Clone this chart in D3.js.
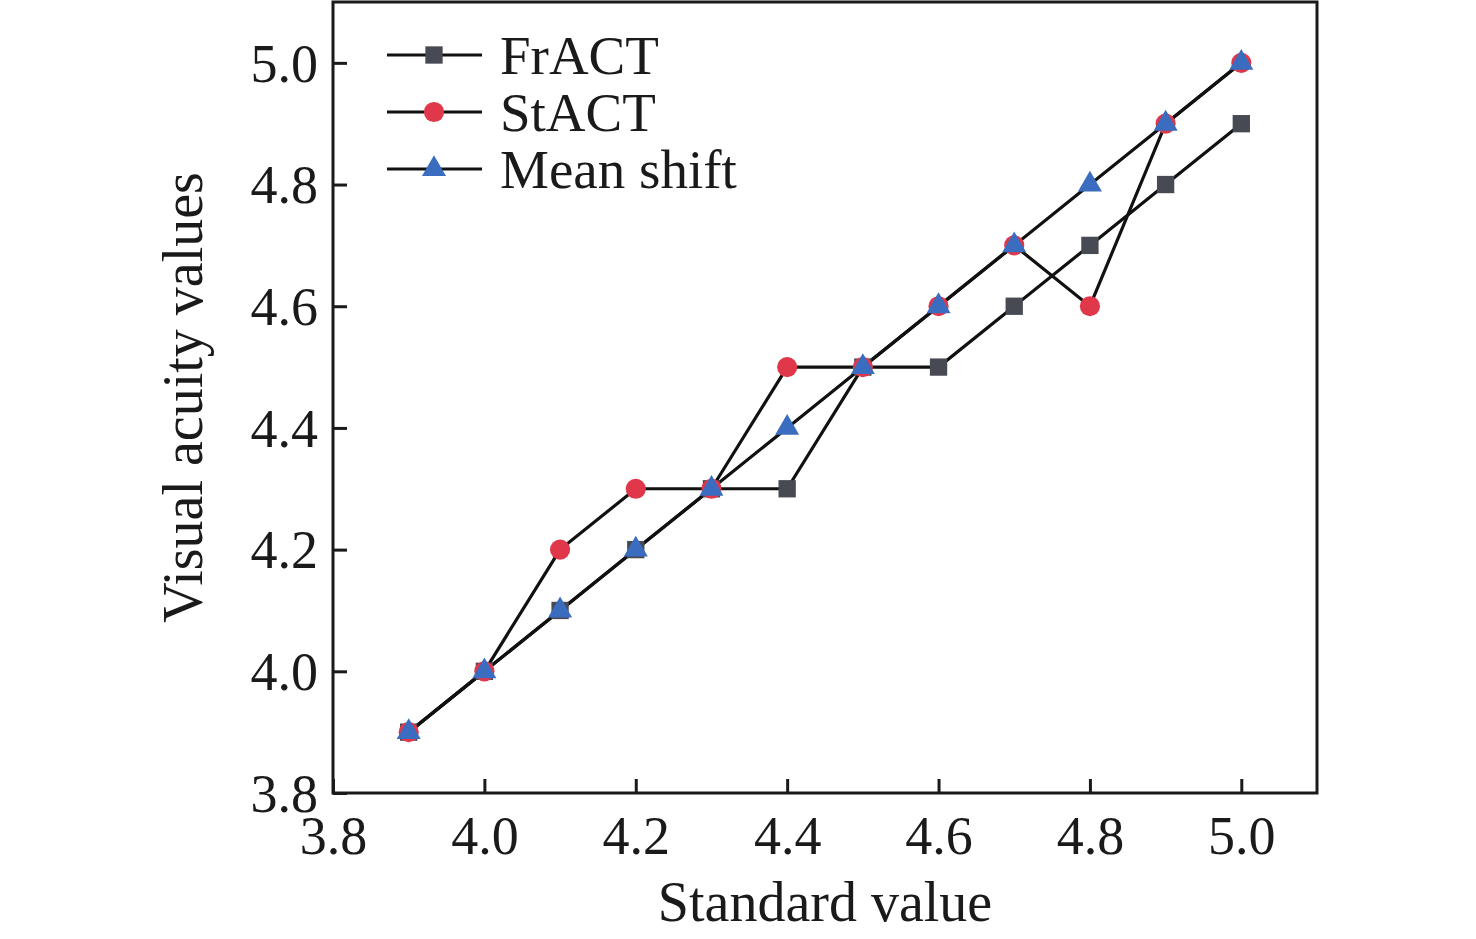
<!DOCTYPE html>
<html>
<head>
<meta charset="utf-8">
<script src="https://cdn.jsdelivr.net/npm/d3@7"></script>
<style>
  body { margin: 0; background: #fff; }
  text { font-family: "Liberation Serif", "Times New Roman", serif; fill: #1a1a1a; }
</style>
</head>
<body>
<svg id="chart" width="1476" height="939"></svg>
<script>
// data
const standard = [3.9, 4.0, 4.1, 4.2, 4.3, 4.4, 4.5, 4.6, 4.7, 4.8, 4.9, 5.0];
const fract = [3.9, 4.0, 4.1, 4.2, 4.3, 4.3, 4.5, 4.5, 4.6, 4.7, 4.8, 4.9];
const stact = [3.9, 4.0, 4.2, 4.3, 4.3, 4.5, 4.5, 4.6, 4.7, 4.6, 4.9, 5.0];
const meanShift = [3.9, 4.0, 4.1, 4.2, 4.3, 4.4, 4.5, 4.6, 4.7, 4.8, 4.9, 5.0];
const tickValues = [3.8, 4.0, 4.2, 4.4, 4.6, 4.8, 5.0];

const series = [
  { name: 'FrACT', values: fract, shape: d3.symbolSquare, color: '#474a52', size: 300 },
  { name: 'StACT', values: stact, shape: d3.symbolCircle, color: '#e0384a', size: 320 },
  { name: 'Mean shift', values: meanShift, shape: d3.symbolTriangle, color: '#3a6cc0', size: 250 }
];

const svg = d3.select('#chart');
const margin = { left: 333, right: 159, top: 2, bottom: 146 };
const width = 1476, height = 939;

const x = d3.scaleLinear().domain([3.8, 5.1]).range([margin.left, width - margin.right]);
const y = d3.scaleLinear().domain([3.8, 5.1]).range([height - margin.bottom, margin.top]);

const fmt = d3.format('.1f');

// frame
svg.append('rect')
  .attr('x', x(3.8)).attr('y', y(5.1))
  .attr('width', x(5.1) - x(3.8)).attr('height', y(3.8) - y(5.1))
  .attr('fill', 'none').attr('stroke', '#1a1a1a').attr('stroke-width', 3);

// axes, ticks inward
const xAxis = svg.append('g')
  .attr('transform', `translate(0, ${y(3.8)})`)
  .call(d3.axisBottom(x).tickValues(tickValues).tickFormat(fmt).tickSizeInner(-14).tickSizeOuter(0).tickPadding(23));
const yAxis = svg.append('g')
  .attr('transform', `translate(${x(3.8)}, 0)`)
  .call(d3.axisLeft(y).tickValues(tickValues).tickFormat(fmt).tickSizeInner(-14).tickSizeOuter(0).tickPadding(15));

[xAxis, yAxis].forEach(g => {
  g.select('.domain').remove();
  g.selectAll('.tick line').attr('stroke', '#1a1a1a').attr('stroke-width', 3);
  g.selectAll('.tick text').attr('font-size', 54).attr('fill', '#1a1a1a')
    .attr('font-family', '"Liberation Serif", serif');
});
xAxis.selectAll('.tick text').attr('dy', '0.71em');
yAxis.selectAll('.tick text').attr('dy', '0.34em');

// axis titles
svg.append('text')
  .attr('x', (x(3.8) + x(5.1)) / 2)
  .attr('y', 921)
  .attr('text-anchor', 'middle')
  .attr('font-size', 56)
  .text('Standard value');

svg.append('text')
  .attr('transform', `translate(202, ${(y(3.8) + y(5.1)) / 2}) rotate(-90)`)
  .attr('text-anchor', 'middle')
  .attr('font-size', 56)
  .text('Visual acuity values');

// lines
const line = d3.line()
  .x((d, i) => x(standard[i]))
  .y(d => y(d));

series.forEach(s => {
  svg.append('path')
    .datum(s.values)
    .attr('d', line)
    .attr('fill', 'none')
    .attr('stroke', '#111')
    .attr('stroke-width', 3.2);
});

// markers
series.forEach(s => {
  svg.append('g')
    .selectAll('path')
    .data(s.values)
    .join('path')
    .attr('transform', (d, i) => `translate(${x(standard[i])}, ${y(d)})`)
    .attr('d', d3.symbol().type(s.shape).size(s.size))
    .attr('fill', s.color);
});

// legend
const legend = svg.append('g').attr('transform', 'translate(387, 55)');
series.forEach((s, i) => {
  const row = legend.append('g').attr('transform', `translate(0, ${i * 57})`);
  row.append('line')
    .attr('x1', 0).attr('x2', 95)
    .attr('stroke', '#111').attr('stroke-width', 3.2);
  row.append('path')
    .attr('transform', 'translate(47, 0)')
    .attr('d', d3.symbol().type(s.shape).size(s.size))
    .attr('fill', s.color);
  row.append('text')
    .attr('x', 113)
    .attr('dy', '0.35em')
    .attr('font-size', 55)
    .text(s.name);
});
</script>
</body>
</html>
